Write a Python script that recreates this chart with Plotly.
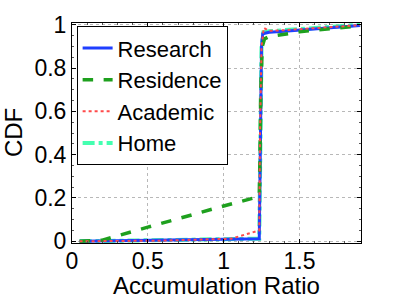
import plotly.graph_objects as go

research_x = [0.05, 0.3, 0.6, 0.9, 1.2, 1.235, 1.24, 1.245, 1.25, 1.258, 1.3, 1.4, 1.5, 1.6, 1.7, 1.8, 1.9]
research_y = [0.0, 0.002, 0.004, 0.006, 0.009, 0.012, 0.3, 0.7, 0.9, 0.958, 0.965, 0.97, 0.975, 0.982, 0.987, 0.992, 0.996]

residence_x = [0.05, 0.2, 0.5, 0.8, 1.0, 1.2, 1.235, 1.24, 1.245, 1.255, 1.27, 1.3, 1.4, 1.5, 1.6, 1.7, 1.8, 1.9]
residence_y = [0.0, 0.005, 0.065, 0.125, 0.163, 0.2, 0.21, 0.4, 0.7, 0.9, 0.935, 0.945, 0.958, 0.967, 0.975, 0.982, 0.988, 0.994]

academic_x = [0.05, 0.6, 1.05, 1.1, 1.22, 1.235, 1.24, 1.25, 1.265, 1.3, 1.4, 1.6, 1.9]
academic_y = [0.0, 0.003, 0.012, 0.022, 0.045, 0.05, 0.5, 0.9, 0.985, 0.972, 0.975, 0.985, 0.998]

home_x = [0.05, 0.3, 0.6, 0.9, 1.2, 1.235, 1.24, 1.245, 1.25, 1.262, 1.3, 1.4, 1.5, 1.6, 1.7, 1.8, 1.9]
home_y = [0.0, 0.002, 0.004, 0.006, 0.009, 0.012, 0.3, 0.7, 0.9, 0.965, 0.97, 0.975, 0.979, 0.985, 0.99, 0.995, 1.0]

FONT = "Liberation Sans, Arial, sans-serif"

fig = go.Figure()
fig.add_trace(go.Scatter(x=home_x, y=home_y, mode="lines", name="Home", legendrank=4,
                         line=dict(color="#44ffb0", width=4, dash="dashdot")))
fig.add_trace(go.Scatter(x=research_x, y=research_y, mode="lines", name="Research", legendrank=1,
                         line=dict(color="#1f3fff", width=3)))
fig.add_trace(go.Scatter(x=residence_x, y=residence_y, mode="lines", name="Residence", legendrank=2,
                         line=dict(color="#1ea01e", width=3.5, dash="dash")))
fig.add_trace(go.Scatter(x=academic_x, y=academic_y, mode="lines", name="Academic", legendrank=3,
                         line=dict(color="#ff4a4a", width=2, dash="dot")))

axis_common = dict(
    showline=True, linecolor="black", linewidth=1, mirror="allticks",
    ticks="inside", ticklen=4, tickcolor="black", automargin=False,
    showgrid=True, gridcolor="#b8b8b8", griddash="dot", gridwidth=1,
    zeroline=False, tickfont=dict(family=FONT, size=23, color="black"),
    minor=dict(ticks="inside", ticklen=2, tickcolor="#555555", showgrid=False),
)

fig.update_layout(
    width=399, height=299,
    margin=dict(l=72, r=38, t=23, b=56),
    paper_bgcolor="white", plot_bgcolor="white",
    font=dict(family=FONT, color="black"),
    xaxis=dict(range=[0.0, 1.906], tickvals=[0, 0.5, 1, 1.5], ticktext=["0", "0.5", "1", "1.5"],
               ticklabelstandoff=-3,
               title=dict(text="Accumulation Ratio", font=dict(size=24), standoff=2),
               **axis_common),
    yaxis=dict(range=[-0.008, 1.008], tickvals=[0, 0.2, 0.4, 0.6, 0.8, 1],
               ticktext=["0", "0.2", "0.4", "0.6", "0.8", "1"],
               **axis_common),
    annotations=[dict(text="CDF", xref="paper", yref="paper", x=-0.204, y=0.5,
                      xanchor="center", yanchor="middle", textangle=-90, showarrow=False,
                      font=dict(family=FONT, size=24, color="black"))],
    legend=dict(x=0.016, y=0.985, xanchor="left", yanchor="top",
                bgcolor="white", bordercolor="black", borderwidth=1,
                font=dict(family=FONT, size=22, color="black"),
                itemwidth=30, tracegroupgap=0),
    showlegend=True,
)
fig.update_xaxes(minor_dtick=0.1)
fig.update_yaxes(minor_dtick=0.05)

fig.write_html("out.html", config={"displayModeBar": False},
               post_script="document.body.style.margin='0px';")
